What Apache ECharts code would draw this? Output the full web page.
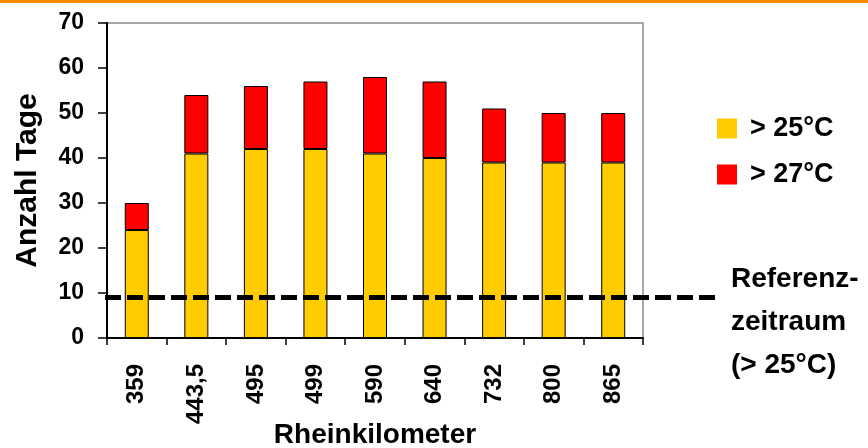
<!DOCTYPE html>
<html>
<head>
<meta charset="utf-8">
<script src="https://cdn.jsdelivr.net/npm/echarts@6/dist/echarts.min.js"></script>
<style>
html,body{margin:0;padding:0;background:#fff;}
#chart{width:868px;height:448px;}
</style>
</head>
<body>
<div id="chart"></div>
<script>
const categories = ['359', '443,5', '495', '499', '590', '640', '732', '800', '865'];
const days25 = [24, 41, 42, 42, 41, 40, 39, 39, 39];
const days27 = [6, 13, 14, 15, 17, 17, 12, 11, 11];
const referenceDays = 9;
const yTicks = {min: 0, max: 70, interval: 10};
const seriesNames = ['> 25°C', '> 27°C'];
const annotation = 'Referenz-\nzeitraum\n(> 25°C)';

const FONT = '"Liberation Sans", Arial, sans-serif';
const chart = echarts.init(document.getElementById('chart'));

const option = {
  backgroundColor: '#fff',
  animation: false,
  textStyle: {fontFamily: FONT},
  grid: {left: 107, top: 23, right: 225, bottom: 110, show: true, borderColor: '#8a8a8a', borderWidth: 1.5,
         containLabel: false, outerBoundsMode: 'none'},
  legend: {
    orient: 'vertical', left: 712, top: 110, itemWidth: 20, itemHeight: 20, itemGap: 19,
    icon: 'rect',
    itemStyle: {borderWidth: 0},
    textStyle: {fontSize: 27, fontWeight: 'bold', color: '#000', fontFamily: FONT, padding: [0, 0, 0, 8]},
    data: seriesNames
  },
  graphic: [
    {type: 'rect', left: 0, top: 0, shape: {width: 868, height: 3}, style: {fill: '#FF8C00'}},
    {type: 'text', left: 731, top: 258, style: {text: annotation, font: 'bold 28px ' + FONT, fill: '#000', lineHeight: 43}}
  ],
  xAxis: {
    type: 'category', data: categories,
    name: 'Rheinkilometer', nameLocation: 'middle', nameGap: 83, nameMoveOverlap: false,
    nameTextStyle: {fontSize: 28, fontWeight: 'bold', color: '#000', fontFamily: FONT},
    axisLine: {lineStyle: {color: '#000', width: 2}},
    axisTick: {show: true, length: 7, lineStyle: {color: '#000', width: 1.5}},
    axisLabel: {rotate: 90, margin: 26, fontSize: 24, fontWeight: 'bold', color: '#000', fontFamily: FONT}
  },
  yAxis: {
    type: 'value', min: yTicks.min, max: yTicks.max, interval: yTicks.interval,
    name: 'Anzahl Tage', nameLocation: 'middle', nameGap: 64, nameMoveOverlap: false,
    nameTextStyle: {fontSize: 30, fontWeight: 'bold', color: '#000', fontFamily: FONT},
    axisLine: {show: true, lineStyle: {color: '#000', width: 2}},
    axisTick: {show: true, length: 9, lineStyle: {color: '#000', width: 1.5}},
    splitLine: {show: false},
    axisLabel: {margin: 23, fontSize: 23, fontWeight: 'bold', color: '#000', fontFamily: FONT}
  },
  series: [
    {name: seriesNames[0], type: 'bar', stack: 't', data: days25, barWidth: 24,
     itemStyle: {color: '#FFCC00', borderColor: '#000', borderWidth: 1}},
    {name: seriesNames[1], type: 'bar', stack: 't', data: days27, barWidth: 24,
     itemStyle: {color: '#FF0000', borderColor: '#000', borderWidth: 1}},
    {type: 'custom', name: 'ref', data: [[0, referenceDays]], clip: false, z: 10,
     renderItem: function (params, api) {
       const p = api.coord([0, api.value(1)]);
       const cs = params.coordSys;
       return {type: 'line', shape: {x1: cs.x - 2, y1: p[1], x2: cs.x + cs.width + 74, y2: p[1]},
               style: {stroke: '#000', lineWidth: 5, lineDash: [16, 6]}};
     }}
  ]
};
chart.setOption(option);
</script>
</body>
</html>
